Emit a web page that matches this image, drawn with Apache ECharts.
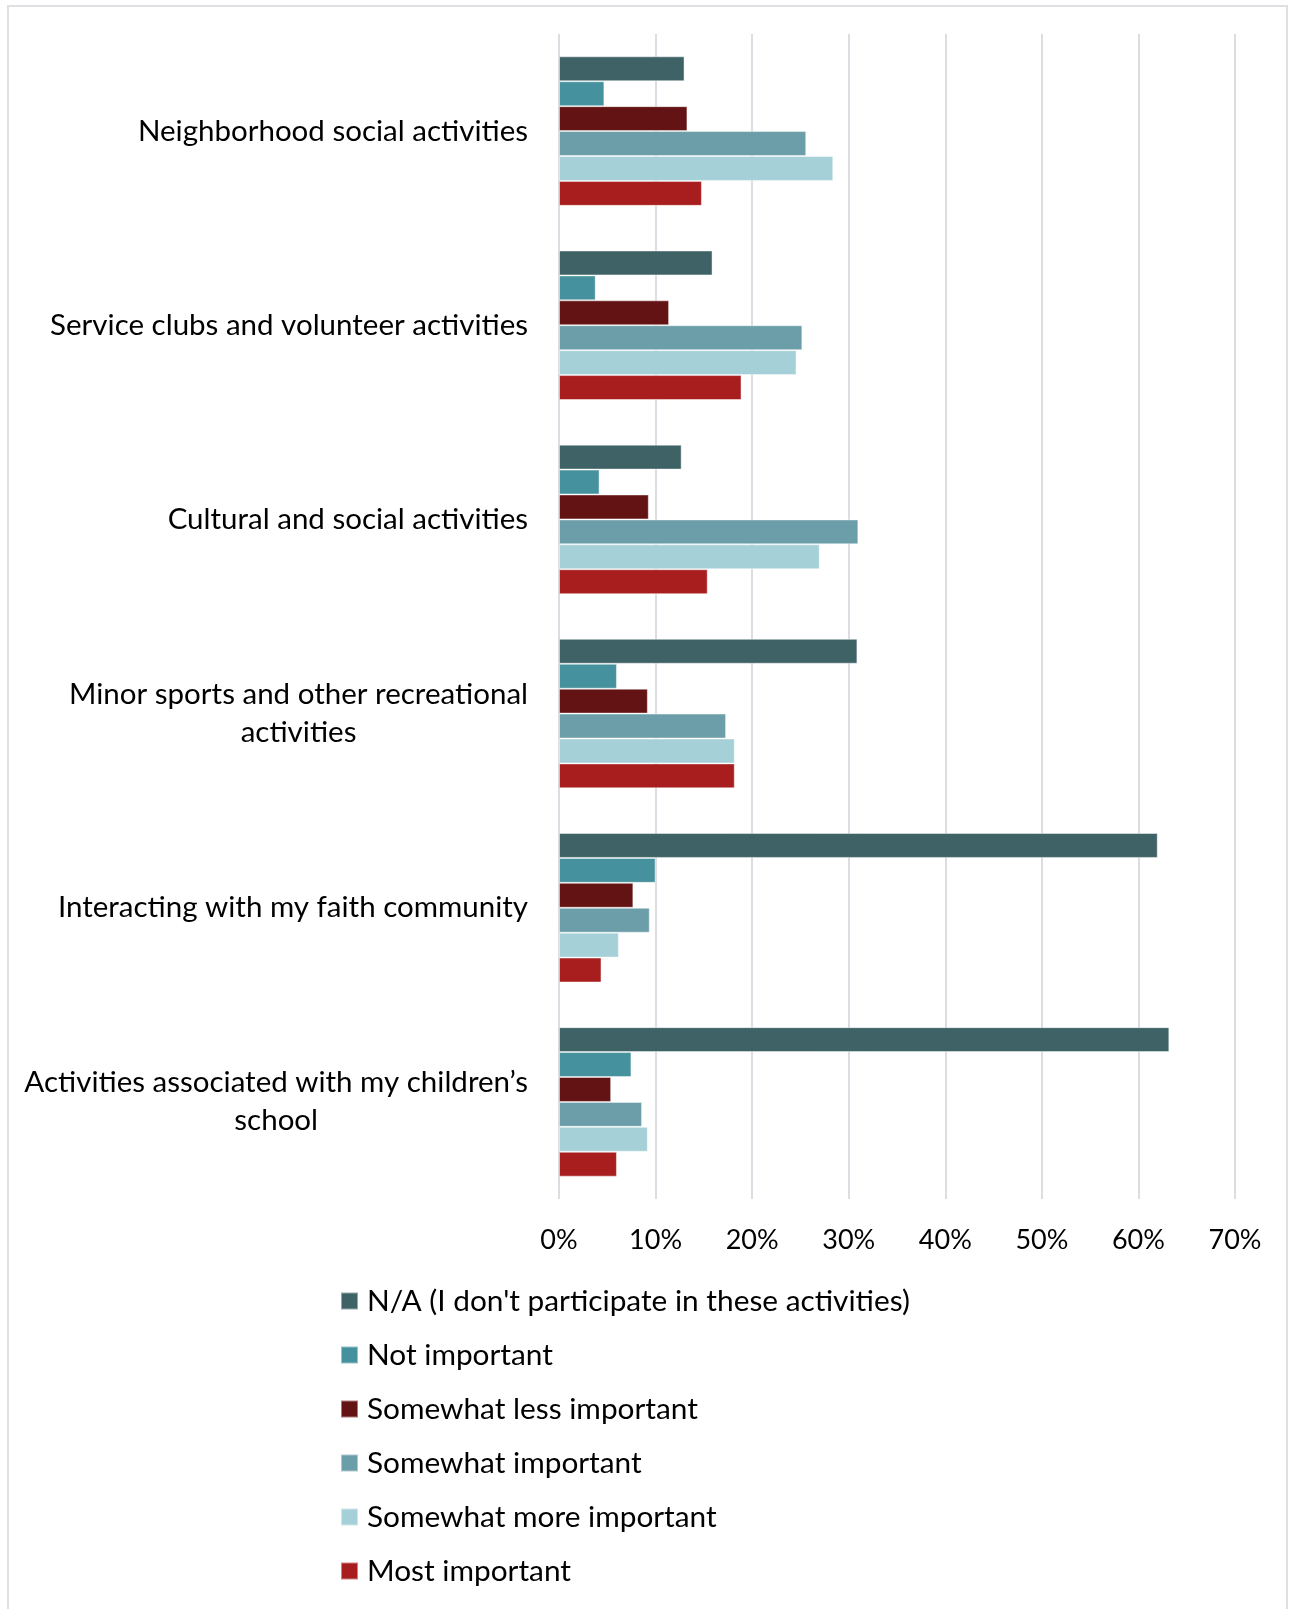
<!DOCTYPE html>
<html>
<head>
<meta charset="utf-8">
<script src="https://cdn.jsdelivr.net/npm/echarts@6/dist/echarts.min.js"></script>
<style>
  html, body { margin: 0; padding: 0; background: #fff; }
  #frame { position: absolute; left: 7px; top: 5px; width: 1281px; height: 1610px; border: 2px solid #e0e0e4; box-sizing: border-box; }
  #chart { position: absolute; left: 0; top: 0; width: 1292px; height: 1609px; }
</style>
</head>
<body>
<div id="frame"></div>
<div id="chart"></div>
<script>
const categories = [
  "Neighborhood social activities",
  "Service clubs and volunteer activities",
  "Cultural and social activities",
  "Minor sports and other recreational\nactivities",
  "Interacting with my faith community",
  "Activities associated with my children\u2019s\nschool"
];
const seriesNames = [
  "N/A (I don't participate in these activities)",
  "Not important",
  "Somewhat less important",
  "Somewhat important",
  "Somewhat more important",
  "Most important"
];
const naValues            = [13.0, 15.9, 12.7, 30.9, 62.0, 63.2];
const notImportant        = [4.7, 3.8, 4.2, 6.0, 10.0, 7.5];
const somewhatLess        = [13.3, 11.4, 9.3, 9.2, 7.7, 5.4];
const somewhatImportant   = [25.6, 25.2, 31.0, 17.3, 9.4, 8.6];
const somewhatMore        = [28.4, 24.6, 27.0, 18.2, 6.2, 9.2];
const mostImportant       = [14.8, 18.9, 15.4, 18.2, 4.4, 6.0];
const tickValues = [0, 10, 20, 30, 40, 50, 60, 70];

const colors = ["#3e6265", "#45919d", "#631313", "#6b9ea8", "#a6d0d8", "#a81e1e"];
const allValues = [naValues, notImportant, somewhatLess, somewhatImportant, somewhatMore, mostImportant];
const FONT = "Lato";

const chart = echarts.init(document.getElementById('chart'), null, { renderer: 'canvas' });
chart.setOption({
  backgroundColor: 'transparent',
  animation: false,
  color: colors,
  grid: { left: 559, right: 57, top: 34, bottom: 410, containLabel: false },
  xAxis: {
    type: 'value',
    min: tickValues[0], max: tickValues[tickValues.length - 1], interval: 10,
    axisLine: { show: false },
    axisTick: { show: false },
    splitLine: { show: true, lineStyle: { color: '#dcdce2', width: 2 } },
    axisLabel: { formatter: '{value}%', fontFamily: FONT, fontSize: 27, color: '#000', margin: 28 }
  },
  yAxis: {
    type: 'category',
    data: categories,
    inverse: true,
    axisLine: { show: false },
    axisTick: { show: false },
    axisLabel: {
      margin: 31,
      formatter: function (v) {
        return v.split('\n').map(function (l) { return '{c|' + l + '}'; }).join('\n');
      },
      rich: { c: { align: 'center', fontFamily: FONT, fontSize: 29.5, color: '#000', lineHeight: 38 } }
    }
  },
  legend: {
    orient: 'vertical',
    left: 335, top: 1281,
    itemWidth: 17, itemHeight: 17, itemGap: 24,
    icon: 'rect',
    textStyle: { fontFamily: FONT, fontSize: 29.8, color: '#000', lineHeight: 28, padding: [0, 0, 0, 4] },
    data: seriesNames
  },
  series: seriesNames.map(function (name, i) {
    return {
      name: name,
      type: 'bar',
      data: allValues[i],
      barGap: '0%',
      barCategoryGap: '23%',
      itemStyle: { color: colors[i], borderColor: 'rgba(255,255,255,0.45)', borderWidth: 1 }
    };
  })
});
</script>
</body>
</html>
